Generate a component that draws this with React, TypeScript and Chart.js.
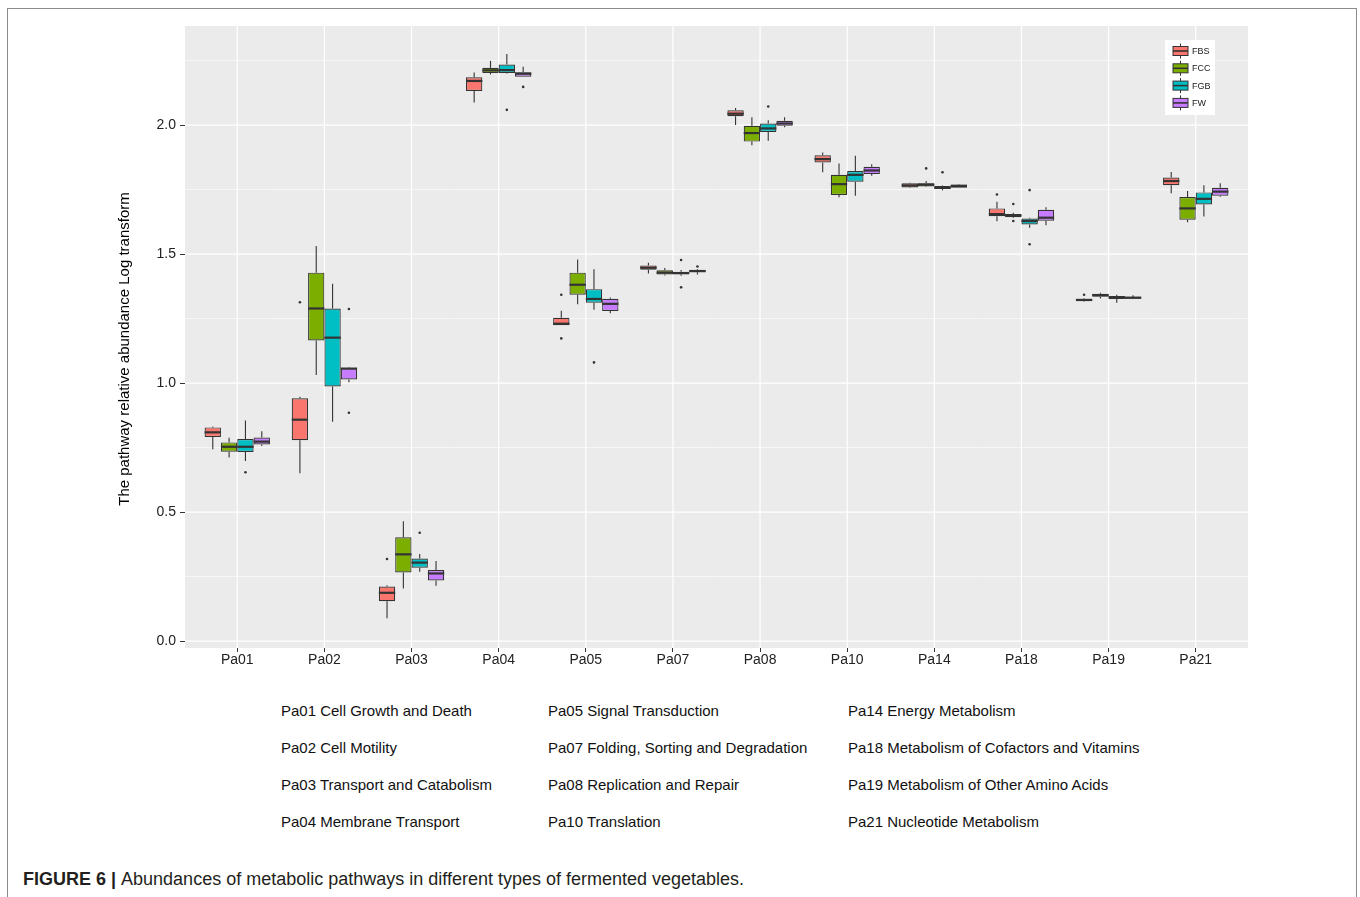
import React, { useEffect, useRef } from "react";
import { Chart, registerables } from "chart.js";

Chart.register(...registerables);

// Pathway categories on the x axis
const pathways = ["Pa01", "Pa02", "Pa03", "Pa04", "Pa05", "Pa07", "Pa08", "Pa10", "Pa14", "Pa18", "Pa19", "Pa21"];

// Vegetable types (fill groups)
const groups = ["FBS", "FCC", "FGB", "FW"];
const groupColors = ["#F8766D", "#7CAE00", "#00BFC4", "#C77CFF"];

// FBS box statistics
const fbsLower = [0.743, 0.650, 0.088, 2.087, 1.224, 1.425, 2.000, 1.817, 1.756, 1.627, 1.316, 1.736];
const fbsQ1 = [0.791, 0.778, 0.154, 2.132, 1.224, 1.439, 2.034, 1.855, 1.758, 1.647, 1.318, 1.767];
const fbsMedian = [0.809, 0.858, 0.187, 2.171, 1.230, 1.447, 2.044, 1.868, 1.766, 1.655, 1.322, 1.783];
const fbsQ3 = [0.828, 0.941, 0.211, 2.185, 1.253, 1.456, 2.057, 1.883, 1.774, 1.677, 1.327, 1.797];
const fbsUpper = [0.832, 0.947, 0.216, 2.204, 1.280, 1.466, 2.066, 1.894, 1.776, 1.703, 1.329, 1.818];
const fbsOutliers = [[1, 1.313], [2, 0.318], [4, 1.342], [4, 1.173], [9, 1.731], [10, 1.342]];

// FCC box statistics
const fccLower = [0.711, 1.031, 0.204, 2.196, 1.305, 1.417, 1.922, 1.720, 1.760, 1.640, 1.328, 1.623];
const fccQ1 = [0.734, 1.165, 0.266, 2.202, 1.342, 1.421, 1.936, 1.729, 1.762, 1.643, 1.335, 1.633];
const fccMedian = [0.753, 1.289, 0.336, 2.212, 1.381, 1.428, 1.969, 1.771, 1.769, 1.650, 1.341, 1.677];
const fccQ3 = [0.770, 1.428, 0.402, 2.222, 1.428, 1.437, 1.997, 1.807, 1.774, 1.655, 1.346, 1.721];
const fccUpper = [0.788, 1.531, 0.464, 2.249, 1.479, 1.446, 2.030, 1.851, 1.783, 1.660, 1.350, 1.744];
const fccOutliers = [[8, 1.832], [9, 1.694], [9, 1.628]];

// FGB box statistics
const fgbLower = [0.698, 0.850, 0.269, 2.200, 1.284, 1.416, 1.939, 1.726, 1.747, 1.602, 1.311, 1.646];
const fgbQ1 = [0.733, 0.987, 0.284, 2.202, 1.311, 1.422, 1.973, 1.780, 1.752, 1.615, 1.326, 1.692];
const fgbMedian = [0.753, 1.176, 0.304, 2.213, 1.326, 1.426, 1.987, 1.807, 1.757, 1.628, 1.332, 1.714];
const fgbQ3 = [0.783, 1.289, 0.320, 2.235, 1.364, 1.431, 2.006, 1.822, 1.764, 1.638, 1.337, 1.739];
const fgbUpper = [0.855, 1.385, 0.337, 2.275, 1.441, 1.438, 2.019, 1.881, 1.766, 1.641, 1.342, 1.767];
const fgbOutliers = [[0, 0.654], [2, 0.420], [3, 2.059], [4, 1.080], [5, 1.477], [5, 1.371], [6, 2.072], [8, 1.817], [9, 1.748], [9, 1.538]];

// FW box statistics
const fwLower = [0.756, 1.003, 0.214, 2.187, 1.271, 1.421, 1.992, 1.804, 1.757, 1.612, 1.326, 1.722];
const fwQ1 = [0.762, 1.014, 0.235, 2.187, 1.279, 1.429, 1.997, 1.810, 1.757, 1.629, 1.327, 1.726];
const fwMedian = [0.773, 1.056, 0.262, 2.199, 1.307, 1.434, 2.006, 1.824, 1.764, 1.641, 1.331, 1.742];
const fwQ3 = [0.789, 1.058, 0.275, 2.205, 1.327, 1.439, 2.017, 1.838, 1.770, 1.672, 1.333, 1.757];
const fwUpper = [0.813, 1.060, 0.310, 2.226, 1.332, 1.442, 2.030, 1.848, 1.772, 1.681, 1.340, 1.774];
const fwOutliers = [[1, 1.287], [1, 0.885], [3, 2.148], [5, 1.452]];

// Axis ticks and minor grid
const yTicks = [0, 0.5, 1, 1.5, 2];
const yMinorGrid = [0.25, 0.75, 1.25, 1.75, 2.25];
const yMin = -0.027;
const yMax = 2.384;
const yTitle = "The pathway relative abundance Log transform";

// Pathway descriptions below the chart
const namesColumn1 = ["Pa01 Cell Growth and Death", "Pa02 Cell Motility", "Pa03 Transport and Catabolism", "Pa04 Membrane Transport"];
const namesColumn2 = ["Pa05 Signal Transduction", "Pa07 Folding, Sorting and Degradation", "Pa08 Replication and Repair", "Pa10 Translation"];
const namesColumn3 = ["Pa14 Energy Metabolism", "Pa18 Metabolism of Cofactors and Vitamins", "Pa19 Metabolism of Other Amino Acids", "Pa21 Nucleotide Metabolism"];

const boxStats = [
  { lower: fbsLower, q1: fbsQ1, median: fbsMedian, q3: fbsQ3, upper: fbsUpper, outliers: fbsOutliers },
  { lower: fccLower, q1: fccQ1, median: fccMedian, q3: fccQ3, upper: fccUpper, outliers: fccOutliers },
  { lower: fgbLower, q1: fgbQ1, median: fgbMedian, q3: fgbQ3, upper: fgbUpper, outliers: fgbOutliers },
  { lower: fwLower, q1: fwQ1, median: fwMedian, q3: fwQ3, upper: fwUpper, outliers: fwOutliers },
];

const FONT = '"Liberation Sans", Arial, Helvetica, sans-serif';
const LINE = "#333333";

function line(ctx: CanvasRenderingContext2D, x1: number, y1: number, x2: number, y2: number) {
  ctx.beginPath();
  ctx.moveTo(x1, y1);
  ctx.lineTo(x2, y2);
  ctx.stroke();
}

// Draws the grey panel, grid, whiskers, medians, outliers, axis title and the in-panel legend
const boxplotPlugin = {
  id: "boxplotDecor",
  beforeDraw(chart: any) {
    const { ctx, chartArea: a, scales } = chart;
    const x = scales.x;
    const y = scales.y;
    ctx.save();
    ctx.fillStyle = "#EBEBEB";
    ctx.fillRect(a.left, a.top, a.right - a.left, a.bottom - a.top);
    ctx.strokeStyle = "#FFFFFF";
    ctx.lineWidth = 0.6;
    yMinorGrid.forEach((v) => {
      const py = y.getPixelForValue(v);
      if (py >= a.top && py <= a.bottom) line(ctx, a.left, py, a.right, py);
    });
    ctx.lineWidth = 1.2;
    yTicks.forEach((v) => {
      const py = y.getPixelForValue(v);
      line(ctx, a.left, py, a.right, py);
    });
    pathways.forEach((_, i) => {
      const px = x.getPixelForValue(i);
      line(ctx, px, a.top, px, a.bottom);
    });
    // y axis title, rotated
    ctx.translate(125, (a.top + a.bottom) / 2 + 12);
    ctx.rotate(-Math.PI / 2);
    ctx.fillStyle = "#000000";
    ctx.font = `15px ${FONT}`;
    ctx.textAlign = "center";
    ctx.textBaseline = "middle";
    ctx.fillText(yTitle, 0, 0);
    ctx.restore();
  },
  beforeDatasetsDraw(chart: any) {
    const { ctx } = chart;
    const y = chart.scales.y;
    ctx.save();
    ctx.strokeStyle = LINE;
    ctx.lineWidth = 1.1;
    boxStats.forEach((s, d) => {
      const meta = chart.getDatasetMeta(d);
      meta.data.forEach((bar: any, i: number) => {
        const cx = bar.x;
        line(ctx, cx, y.getPixelForValue(s.q3[i]), cx, y.getPixelForValue(s.upper[i]));
        line(ctx, cx, y.getPixelForValue(s.q1[i]), cx, y.getPixelForValue(s.lower[i]));
      });
    });
    ctx.restore();
  },
  afterDatasetsDraw(chart: any) {
    const { ctx } = chart;
    const y = chart.scales.y;
    ctx.save();
    ctx.strokeStyle = LINE;
    ctx.fillStyle = LINE;
    ctx.lineWidth = 2.2;
    boxStats.forEach((s, d) => {
      const meta = chart.getDatasetMeta(d);
      meta.data.forEach((bar: any, i: number) => {
        const half = bar.width / 2;
        const py = y.getPixelForValue(s.median[i]);
        line(ctx, bar.x - half, py, bar.x + half, py);
      });
      s.outliers.forEach(([i, v]) => {
        const bar = meta.data[i];
        ctx.beginPath();
        ctx.arc(bar.x, y.getPixelForValue(v), 1.3, 0, Math.PI * 2);
        ctx.fill();
      });
    });
    ctx.restore();
  },
  afterDraw(chart: any) {
    const { ctx, chartArea: a } = chart;
    const left = a.right - 83;
    const top = a.top + 14;
    ctx.save();
    ctx.fillStyle = "#FFFFFF";
    ctx.fillRect(left, top, 50, 75);
    groups.forEach((g, k) => {
      const cy = top + 11 + k * 17.3;
      const kx = left + 8;
      const kw = 15;
      ctx.strokeStyle = LINE;
      ctx.lineWidth = 1;
      line(ctx, kx + kw / 2, cy - 7.5, kx + kw / 2, cy + 7.5);
      ctx.fillStyle = groupColors[k];
      ctx.fillRect(kx, cy - 4.5, kw, 9);
      ctx.strokeRect(kx, cy - 4.5, kw, 9);
      ctx.lineWidth = 1.6;
      line(ctx, kx, cy, kx + kw, cy);
      ctx.fillStyle = "#1a1a1a";
      ctx.font = `9px ${FONT}`;
      ctx.textBaseline = "middle";
      ctx.textAlign = "left";
      ctx.fillText(g, kx + kw + 4, cy + 0.5);
    });
    ctx.restore();
  },
};

export default function App() {
  const canvasRef = useRef<HTMLCanvasElement | null>(null);

  useEffect(() => {
    const canvas = canvasRef.current;
    if (!canvas) return;
    const datasets = groups.map((g, d) => ({
      label: g,
      data: pathways.map((_, i) => ({ x: i, y: [boxStats[d].q1[i], boxStats[d].q3[i]] })),
      backgroundColor: groupColors[d],
      borderColor: LINE,
      borderWidth: 1.2,
      borderSkipped: false as const,
      categoryPercentage: 0.75,
      barPercentage: 1,
    }));
    const chart = new Chart(canvas, {
      type: "bar",
      data: { datasets } as any,
      plugins: [boxplotPlugin],
      options: {
        animation: false,
        responsive: false,
        devicePixelRatio: 1,
        layout: { padding: { top: 26, right: 112, left: 0, bottom: 0 } },
        plugins: { legend: { display: false }, tooltip: { enabled: false } },
        scales: {
          x: {
            type: "linear",
            min: -0.6,
            max: 11.6,
            offset: false,
            afterBuildTicks: (scale: any) => {
              scale.ticks = pathways.map((_, i) => ({ value: i }));
            },
            afterFit: (scale: any) => {
              scale.height = 52;
            },
            grid: { display: true, drawOnChartArea: false, drawTicks: true, tickLength: 4, color: LINE, offset: false },
            border: { display: false },
            ticks: {
              autoSkip: false,
              maxRotation: 0,
              padding: 0,
              color: "#222222",
              font: { family: FONT, size: 14 },
              callback: (_v: any, i: number) => pathways[i],
            },
          },
          y: {
            type: "linear",
            min: yMin,
            max: yMax,
            afterBuildTicks: (scale: any) => {
              scale.ticks = yTicks.map((v) => ({ value: v }));
            },
            afterFit: (scale: any) => {
              scale.width = 185;
            },
            grid: { display: true, drawOnChartArea: false, drawTicks: true, tickLength: 5, color: LINE },
            border: { display: false },
            ticks: {
              padding: 4,
              color: "#222222",
              font: { family: FONT, size: 14 },
              callback: (v: any) => Number(v).toFixed(1),
            },
          },
        },
      } as any,
    });
    return () => chart.destroy();
  }, []);

  const columnX = [281, 548, 848];
  const columns = [namesColumn1, namesColumn2, namesColumn3];

  return (
    <div
      style={{
        position: "absolute",
        left: 0,
        top: 0,
        width: 1360,
        height: 897,
        overflow: "hidden",
        background: "#FFFFFF",
        fontFamily: FONT,
      }}
    >
      <div
        style={{
          position: "absolute",
          left: 7,
          top: 8,
          width: 1350,
          height: 920,
          boxSizing: "border-box",
          borderLeft: "1.5px solid #8c8c8c",
          borderTop: "1.5px solid #8c8c8c",
          borderRight: "1.5px solid #8c8c8c",
        }}
      />
      <canvas ref={canvasRef} width={1360} height={700} style={{ position: "absolute", left: 0, top: 0, width: 1360, height: 700 }} />
      {columns.map((col, c) =>
        col.map((text, r) => (
          <div
            key={`${c}-${r}`}
            style={{
              position: "absolute",
              left: columnX[c],
              top: 703 + r * 37,
              fontSize: 15,
              lineHeight: "15px",
              color: "#111111",
              whiteSpace: "nowrap",
            }}
          >
            {text}
          </div>
        ))
      )}
      <div
        style={{
          position: "absolute",
          left: 23,
          top: 870,
          fontSize: 18,
          lineHeight: "18px",
          color: "#231F20",
          whiteSpace: "nowrap",
        }}
      >
        <span style={{ fontWeight: "bold" }}>FIGURE 6 | </span>
        Abundances of metabolic pathways in different types of fermented vegetables.
      </div>
    </div>
  );
}
